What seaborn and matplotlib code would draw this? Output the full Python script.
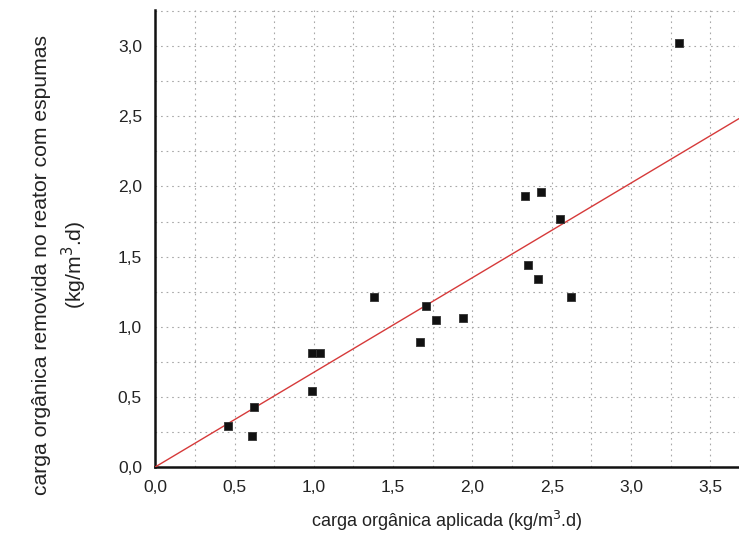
import numpy as np
import pandas as pd
import matplotlib
matplotlib.use("Agg")
import matplotlib.pyplot as plt
import seaborn as sns
from matplotlib.ticker import MultipleLocator, FuncFormatter

# Data
carga_aplicada = [0.46, 0.62, 0.61, 0.99, 1.04, 0.99, 1.38, 1.71, 1.77, 1.94,
                  1.67, 2.33, 2.43, 2.55, 2.35, 2.41, 2.62, 3.30]
carga_removida = [0.29, 0.43, 0.22, 0.81, 0.81, 0.54, 1.21, 1.15, 1.05, 1.06,
                  0.89, 1.93, 1.96, 1.77, 1.44, 1.34, 1.21, 3.02]
fit_slope = 0.675
fit_x = [0.0, 3.68]

x_ticks = [0.0, 0.5, 1.0, 1.5, 2.0, 2.5, 3.0, 3.5]
y_ticks = [0.0, 0.5, 1.0, 1.5, 2.0, 2.5, 3.0]

sns.set_style("white")
plt.rcParams['font.family'] = ['Liberation Sans', 'DejaVu Sans']

df = pd.DataFrame({"x": carga_aplicada, "y": carga_removida})
fit_df = pd.DataFrame({"x": fit_x, "y": [v * fit_slope for v in fit_x]})

fig = plt.figure(figsize=(7.39, 5.43), dpi=100)
ax = fig.add_axes([0.21, 0.14, 0.79, 0.842])

sns.lineplot(data=fit_df, x="x", y="y", ax=ax, color="#d63a3a", linewidth=1.0, zorder=3)
sns.scatterplot(data=df, x="x", y="y", ax=ax, marker="s", s=38, color="#111111",
                edgecolor="#333333", linewidth=0.6, zorder=4)

ax.set_xlim(0, 3.68)
ax.set_ylim(0, 3.26)
ax.set_xticks(x_ticks)
ax.set_yticks(y_ticks)
ax.xaxis.set_minor_locator(MultipleLocator(0.25))
ax.yaxis.set_minor_locator(MultipleLocator(0.25))
fmt = FuncFormatter(lambda v, p: f"{v:.1f}".replace(".", ","))
ax.xaxis.set_major_formatter(fmt)
ax.yaxis.set_major_formatter(fmt)

ax.grid(True, which="both", linestyle=(0, (1.5, 3.5)), color="#a8a8a8", linewidth=0.8)
ax.set_axisbelow(True)

for s in ["top", "right"]:
    ax.spines[s].set_visible(False)
for s in ["left", "bottom"]:
    ax.spines[s].set_linewidth(1.8)
    ax.spines[s].set_color("#111111")

ax.tick_params(which="major", direction="out", length=6, width=1.5, colors="#111111",
               labelsize=12.5, labelcolor="#222222")
ax.tick_params(which="minor", direction="out", length=3.5, width=1.2, colors="#111111")

ax.set_xlabel("carga orgânica aplicada (kg/m$^3$.d)", fontsize=13, color="#222222", labelpad=10)
ax.set_ylabel("carga orgânica removida no reator com espumas\n(kg/m$^3$.d)", fontsize=15.2,
              color="#222222", linespacing=1.4)
ax.yaxis.set_label_coords(-0.113, 0.442)

fig.savefig("out.png", dpi=100)
